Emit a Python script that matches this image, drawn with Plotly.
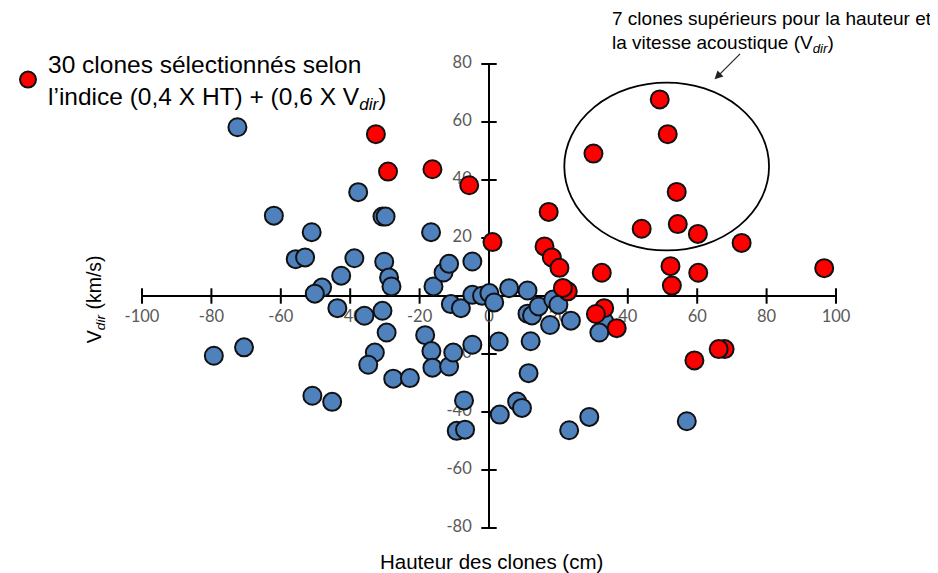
import plotly.graph_objects as go

# ---------------- data ----------------
red_x = [49.2, 51.5, 30.1, 54.1, 44.0, 54.4, 60.2, 72.8, 96.6, 52.3, 60.3, 32.5, 52.7,
         1.0, 17.2, 16.0, 18.1, 20.3, 22.7, 21.3, 33.2, 30.8, 36.8, 59.2, 67.9, 66.2,
         -32.6, -29.1, -16.3, -5.7]
red_y = [67.8, 55.8, 49.1, 35.9, 23.2, 24.8, 21.4, 18.3, 9.6, 10.3, 8.0, 8.0, 3.6,
         18.6, 29.0, 17.1, 13.3, 9.7, 1.6, 2.8, -4.2, -6.2, -11.1, -22.2, -18.3, -18.3,
         55.8, 42.9, 43.7, 38.2]

blue_x = [-72.5, -37.7, -62.0, -30.7, -29.8, -51.1, -16.7, -55.7, -53.0, -38.8, -30.2,
          -42.6, -28.8, -28.1, -48.1, -50.2, -43.7, -35.9, -30.7, -29.5, -32.9, -34.8,
          -27.6, -22.8, -18.4, -16.6, -16.3, -11.5, -10.3, -4.8, -16.0, -13.1, -11.5,
          -4.8, -11.0, -8.1, -4.8, -2.0, 0.1, 1.5, -50.9, -45.2, -79.3, -70.6, -7.2,
          -9.3, -6.9, 5.8, 11.1, 11.1, 12.4, 14.3, 18.5, 20.0, 17.6, 23.6, 2.8, 12.0,
          11.4, 8.1, 9.5, 3.1, 23.1, 28.9, 57.0, 33.2, 31.8]
blue_y = [58.2, 35.8, 27.7, 27.4, 27.4, 22.0, 22.0, 12.7, 13.3, 13.0, 11.8,
          7.0, 6.4, 3.3, 2.9, 0.8, -4.2, -6.8, -5.1, -12.6, -19.5, -23.7,
          -28.5, -28.3, -13.5, -19.0, -24.7, -24.3, -19.5, -16.8, 3.3, 8.1, 11.1,
          11.9, -2.8, -4.2, 0.4, 0.1, 1.0, -2.2, -34.4, -36.5, -20.6, -17.7, -36.0,
          -46.5, -46.1, 2.7, 1.9, -6.1, -6.7, -3.6, -1.2, -3.0, -10.0, -8.5, -15.7, -15.6,
          -26.6, -36.4, -38.6, -40.9, -46.3, -41.7, -43.2, -8.8, -12.6]

x_ticks = [-100, -80, -60, -40, -20, 0, 20, 40, 60, 80, 100]
y_ticks = [80, 60, 40, 20, -20, -40, -60, -80]
y_tick_marks = [80, 60, 40, 20, 0, -20, -40, -60, -80]

legend_label = "30 clones sélectionnés selon<br>l’indice (0,4 X HT) + (0,6 X V<sub><i>dir</i></sub>)"
note_line1 = "7 clones supérieurs pour la hauteur et"
note_line2 = "la vitesse acoustique (V<sub><i>dir</i></sub>)"
x_title = "Hauteur des clones (cm)"
y_title = "V<sub><i>dir</i></sub> (km/s)"

# ---------------- figure ----------------
tick_font = dict(family="Lato, Open Sans, sans-serif", size=16.5, color="#595959")
fig = go.Figure()

# tick labels (drawn first so markers overlay them)
fig.add_trace(go.Scatter(
    x=x_ticks, y=[0] * len(x_ticks), mode="markers+text",
    text=[str(v) for v in x_ticks], textposition="bottom center",
    marker=dict(size=20, opacity=0), textfont=tick_font,
    showlegend=False, hoverinfo="skip", cliponaxis=False))
fig.add_trace(go.Scatter(
    x=[0] * len(y_ticks), y=y_ticks, mode="markers+text",
    text=[str(v) for v in y_ticks], textposition="middle left",
    marker=dict(size=26, opacity=0), textfont=tick_font,
    showlegend=False, hoverinfo="skip", cliponaxis=False))

# tick marks crossing the axes
fig.add_trace(go.Scatter(
    x=x_ticks, y=[0] * len(x_ticks), mode="markers",
    marker=dict(symbol="line-ns", size=11, line=dict(width=2, color="black")),
    showlegend=False, hoverinfo="skip", cliponaxis=False))
fig.add_trace(go.Scatter(
    x=[0] * len(y_tick_marks), y=y_tick_marks, mode="markers",
    marker=dict(symbol="line-ew", size=11, line=dict(width=2, color="black")),
    showlegend=False, hoverinfo="skip", cliponaxis=False))

# data
fig.add_trace(go.Scatter(
    x=blue_x, y=blue_y, mode="markers", name="Autres clones",
    marker=dict(size=18, color="#4F81BD", line=dict(width=2, color="#111111")),
    showlegend=False, cliponaxis=False))
fig.add_trace(go.Scatter(
    x=red_x, y=red_y, mode="markers", name=legend_label,
    marker=dict(size=18, color="#FF0000", line=dict(width=2, color="#111111")),
    showlegend=True, cliponaxis=False))

fig.add_shape(type="circle", xref="x", yref="y", x0=21.7, x1=80.7, y0=15.7, y1=73.6,
              line=dict(color="black", width=1.8))

fig.update_layout(
    width=938, height=573,
    margin=dict(l=134.3, r=109.7, t=56, b=52.7, autoexpand=False),
    plot_bgcolor="white", paper_bgcolor="white",
    xaxis=dict(range=[-100, 100], showgrid=False, showticklabels=False, ticks="",
               zeroline=True, zerolinecolor="black", zerolinewidth=2, showline=False),
    yaxis=dict(range=[-80, 80], showgrid=False, showticklabels=False, ticks="",
               zeroline=True, zerolinecolor="black", zerolinewidth=2, showline=False),
    legend=dict(xref="container", yref="container", x=0.0, y=0.942,
                xanchor="left", yanchor="top",
                font=dict(family="Liberation Sans, Arial, sans-serif", size=24.5, color="black"),
                bgcolor="rgba(0,0,0,0)", itemwidth=30),
    font=dict(family="Liberation Sans, Arial, sans-serif"),
    annotations=[
        dict(text=x_title, xref="paper", yref="paper", x=0.503, y=-0.072,
             xanchor="center", yanchor="middle",
             showarrow=False, font=dict(size=20.5, color="black")),
        dict(text=y_title, xref="paper", yref="paper", x=-0.067, y=0.492, textangle=-90,
             xanchor="center", yanchor="middle",
             showarrow=False, font=dict(size=19.5, color="black")),
        dict(text=note_line1, xref="paper", yref="paper", x=0.674, y=1.097,
             xanchor="left", yanchor="middle",
             showarrow=False, font=dict(size=19, color="black")),
        dict(text=note_line2, xref="paper", yref="paper", x=0.674, y=1.043,
             xanchor="left", yanchor="middle",
             showarrow=False, font=dict(size=19, color="black")),
        dict(text="", xref="x", yref="y", x=65.0, y=74.7, ax=27, ay=-27,
             showarrow=True, arrowhead=2, arrowsize=1.4, arrowwidth=1.2, arrowcolor="#222222"),
    ],
)

fig.write_html("out.html")
